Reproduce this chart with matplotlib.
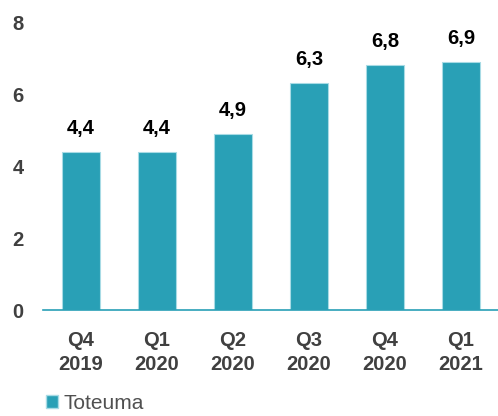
import matplotlib.pyplot as plt
from matplotlib.patches import Patch

# datos
quarters = ["Q4\n2019", "Q1\n2020", "Q2\n2020", "Q3\n2020", "Q4\n2020", "Q1\n2021"]
toteuma = [4.4, 4.4, 4.9, 6.3, 6.8, 6.9]
yticks = [0, 2, 4, 6, 8]

teal = "#29a0b6"
gray = "#404040"

plt.rcParams['font.family'] = ['Liberation Sans', 'DejaVu Sans']

fig = plt.figure(figsize=(4.98, 4.16), dpi=100)
ax = fig.add_axes([43/498, 106/416, 456/498, 288/416])

x = range(len(quarters))
bars = ax.bar(x, toteuma, width=0.5, color=teal, edgecolor="#a8dbe5", linewidth=0.8)

# etiquetas de valor con coma decimal
for xi, v in zip(x, toteuma):
    ax.annotate(f"{v:.1f}".replace(".", ","), (xi, v), xytext=(0, 10),
                textcoords="offset points", ha="center", va="bottom",
                fontsize=14.5, fontweight="bold", color="black")

ax.set_xlim(-0.5, 5.5)
ax.set_ylim(0, 8)
ax.set_xticks(list(x))
ax.set_xticklabels(quarters, fontsize=14.5, fontweight="bold", color=gray,
                   linespacing=1.35)
ax.set_yticks(yticks)
ax.set_yticklabels([str(t) for t in yticks], fontsize=14.5, fontweight="bold", color=gray)
ax.tick_params(axis="both", length=0)
ax.tick_params(axis="x", pad=15)
ax.tick_params(axis="y", pad=14)

for s in ["top", "right", "left"]:
    ax.spines[s].set_visible(False)
ax.spines["bottom"].set_color(teal)
ax.spines["bottom"].set_linewidth(1.2)

handle = Patch(facecolor=teal, edgecolor="#a8dbe5", label="Toteuma")
fig.legend(handles=[handle], loc="lower left", bbox_to_anchor=(0.055, -0.038),
           frameon=False, fontsize=15, handlelength=0.55, handleheight=0.55,
           handletextpad=0.3, labelcolor="#505050")

fig.savefig("out.png", dpi=100)
